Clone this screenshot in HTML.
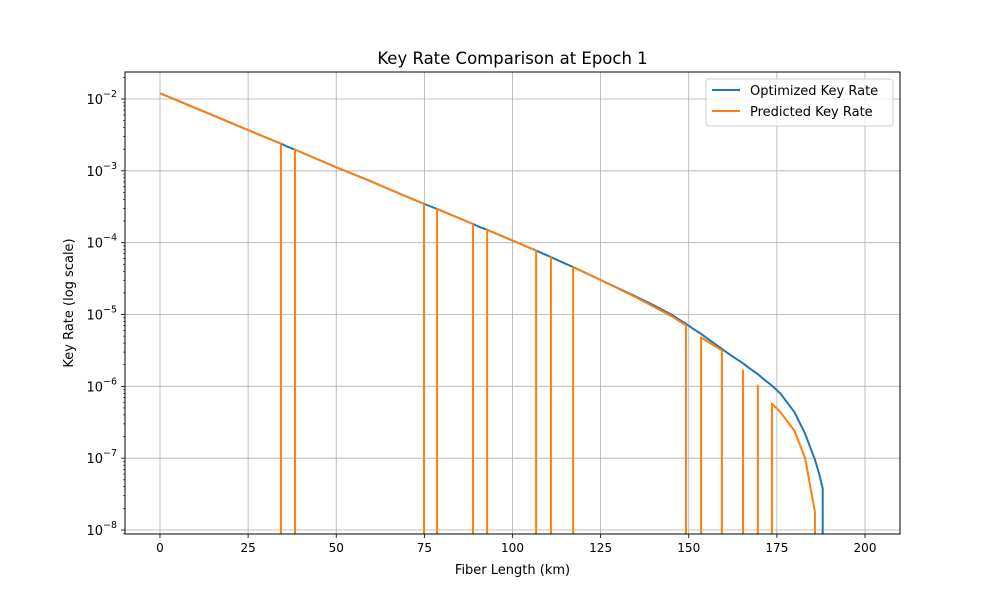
<!DOCTYPE html>
<html><head><meta charset="utf-8"><style>
body{margin:0;background:#fff;}
svg text{font-family:"DejaVu Sans","Liberation Sans",sans-serif;fill:#000;}
</style></head><body>
<svg id="chart" width="1000" height="600" viewBox="0 0 1000 600" xmlns="http://www.w3.org/2000/svg">
<rect width="1000" height="600" fill="#fff"/>
<text x="512.5" y="64" font-size="16.5" text-anchor="middle">Key Rate Comparison at Epoch 1</text>
<g id="grid"></g>
<g id="series"></g>
<rect x="125" y="72" width="775" height="462" fill="none" stroke="#000" stroke-width="1"/>
<g id="axes"></g>
<text x="512.5" y="574" font-size="13" text-anchor="middle">Fiber Length (km)</text>
<text transform="translate(73,303) rotate(-90)" font-size="13" text-anchor="middle">Key Rate (log scale)</text>
<g>
<rect x="706" y="79" width="187" height="47" rx="3" fill="#fff" fill-opacity="0.8" stroke="#ccc"/>
<line x1="712" y1="90" x2="740" y2="90" stroke="#1f77b4" stroke-width="2"/>
<text x="750" y="95" font-size="13">Optimized Key Rate</text>
<line x1="712" y1="111" x2="740" y2="111" stroke="#ff7f0e" stroke-width="2"/>
<text x="750" y="116" font-size="13">Predicted Key Rate</text>
</g>
</svg>
<script>
const distances=[0,10,20,30,34.3,36,38.3,50,60,70,74.9,77,78.6,88.8,91,92.8,100,106.7,109,110.9,114,117.2,125,135,140,145,149.2,151,153.5,159.4,162,165.4,167,169.6,171,173.6,176,180,183,185.8,187,188,190];
const optimizedLog=[-1.92,-2.125,-2.33,-2.535,-2.62,-2.66,-2.705,-2.95,-3.15,-3.36,-3.46,-3.5,-3.53,-3.74,-3.79,-3.82,-3.97,-4.11,-4.16,-4.2,-4.27,-4.34,-4.52,-4.75,-4.87,-5.0,-5.13,-5.19,-5.27,-5.48,-5.57,-5.68,-5.74,-5.83,-5.89,-5.99,-6.1,-6.36,-6.66,-7.02,-7.22,-7.42,null];
const predictedLog=[-1.92,-2.125,-2.33,-2.535,-2.62,null,-2.705,-2.95,-3.15,-3.36,-3.46,null,-3.53,-3.74,null,-3.82,-3.97,-4.11,null,-4.2,null,-4.34,-4.52,-4.76,-4.89,-5.02,-5.15,null,-5.32,-5.5,null,-5.78,null,-5.99,null,-6.24,-6.36,-6.62,-7.0,-7.75,null,null,null];
const xTicks=[0,25,50,75,100,125,150,175,200];
const yTicks=[-8,-7,-6,-5,-4,-3,-2];
const NS="http://www.w3.org/2000/svg";
const L=125,R=900,T=72,B=534;
const xs=d=>160+d*(865-160)/200;
const ys=v=>99+(-2-v)*(530-99)/6;
function mk(tag,attrs,parent){const e=document.createElementNS(NS,tag);for(const k in attrs)e.setAttribute(k,attrs[k]);parent.appendChild(e);return e;}
const grid=document.getElementById('grid'),axes=document.getElementById('axes'),series=document.getElementById('series');
xTicks.forEach(t=>{const x=xs(t);
 const g=mk('line',{x1:x,x2:x,y1:T,y2:B,stroke:'#b0b0b0','stroke-width':0.8},grid);
 
 
 mk('line',{x1:x,x2:x,y1:B,y2:B+4,stroke:'#000','stroke-width':0.8},axes);
 const tx=mk('text',{x:x,y:B+18,'font-size':12,'text-anchor':'middle'},axes);tx.textContent=t;
 
 
});
yTicks.forEach(t=>{const y=ys(t);
 const g=mk('line',{x1:L,x2:R,y1:y,y2:y,stroke:'#b0b0b0','stroke-width':0.8},grid);
 
 
 mk('line',{x1:L-4,x2:L,y1:y,y2:y,stroke:'#000','stroke-width':0.8},axes);
 const tx=mk('text',{x:L-8,y:y+5,'font-size':13,'text-anchor':'end'},axes);
 
 
 tx.innerHTML='10<tspan dy="-7" font-size="9.5">\u2212'+(-t)+'</tspan>';
 for(let m=2;m<=9;m++){const yy=ys(t+Math.log10(m));if(yy>=T&&yy<=B)mk('line',{x1:L-2,x2:L,y1:yy,y2:yy,stroke:'#000','stroke-width':0.6},axes);}
});
{const yy=ys(-9+Math.log10(9));if(yy<=B)mk('line',{x1:L-2,x2:L,y1:yy,y2:yy,stroke:'#000','stroke-width':0.6},axes);}
function path(vals){let d='',pen=false;
 for(let i=0;i<vals.length;i++){const v=vals[i],x=xs(distances[i]);
  if(v!==null){const y=ys(v);
   if(!pen){ if(i>0&&vals[i-1]===null) d+='M'+x+' '+(B+5)+'L'+x+' '+y; else d+='M'+x+' '+y; pen=true;}
   else d+='L'+x+' '+y;
  } else if(pen){const px=xs(distances[i-1]);d+='L'+px+' '+(B+5);pen=false;}
 }
 return d;}
mk('clipPath',{id:'clip'},series);
mk('rect',{x:L,y:T,width:R-L,height:B-T},document.getElementById('clip'));
const p1=mk('path',{d:path(optimizedLog),fill:'none',stroke:'#1f77b4','stroke-width':2,'clip-path':'url(#clip)','stroke-linejoin':'round'},series);


const p2=mk('path',{d:path(predictedLog),fill:'none',stroke:'#ff7f0e','stroke-width':2,'clip-path':'url(#clip)','stroke-linejoin':'round'},series);


</script>
</body></html>
